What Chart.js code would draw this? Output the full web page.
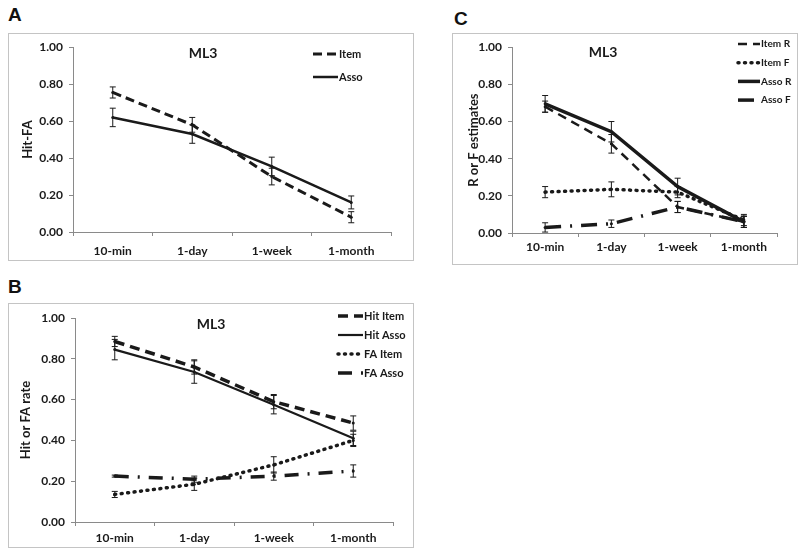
<!DOCTYPE html>
<html>
<head>
<meta charset="utf-8">
<script src="https://cdn.jsdelivr.net/npm/chart.js@4.4.1/dist/chart.umd.min.js"></script>
<style>
  body { margin: 0; background: #fff; width: 800px; height: 553px; position: relative; overflow: hidden; font-family: "Liberation Sans", Arial, sans-serif; }
  .frame { position: absolute; border: 1px solid #c4c4c4; box-sizing: border-box; }
  .frame canvas { display: block; }
  .letter { position: absolute; font-weight: bold; font-size: 19px; color: #111; }
</style>
</head>
<body>
<div class="letter" style="left:8px;top:4px;">A</div>
<div class="letter" style="left:8px;top:276px;">B</div>
<div class="letter" style="left:454px;top:8px;">C</div>

<div class="frame" style="left:8px;top:33px;width:406px;height:228px;"><canvas id="chartA" width="404" height="226"></canvas></div>
<div class="frame" style="left:8px;top:303px;width:406px;height:245px;"><canvas id="chartB" width="404" height="243"></canvas></div>
<div class="frame" style="left:452px;top:33px;width:346px;height:232px;"><canvas id="chartC" width="344" height="230"></canvas></div>

<script>
// delays
const categories = ["10-min", "1-day", "1-week", "1-month"];
const yTicks = [0, 0.2, 0.4, 0.6, 0.8, 1.0];

// panel A - Hit-FA
const aItem = [0.755, 0.58, 0.30, 0.08];
const aItemErr = [0.03, 0.04, 0.045, 0.03];
const aAsso = [0.62, 0.53, 0.355, 0.16];
const aAssoErr = [0.05, 0.05, 0.05, 0.035];

// panel B - Hit / FA rate
const bHitItem = [0.885, 0.76, 0.59, 0.485];
const bHitItemErr = [0.025, 0.035, 0.035, 0.035];
const bHitAsso = [0.845, 0.735, 0.575, 0.41];
const bHitAssoErr = [0.05, 0.055, 0.045, 0.035];
const bFaItem = [0.135, 0.185, 0.28, 0.40];
const bFaItemErr = [0.015, 0.03, 0.04, 0.03];
const bFaAsso = [0.225, 0.21, 0.225, 0.25];
const bFaAssoErr = [0.005, 0.015, 0.02, 0.03];

// panel C - R / F estimates
const cItemR = [0.68, 0.48, 0.14, 0.06];
const cItemRErr = [0.03, 0.05, 0.03, 0.03];
const cItemF = [0.22, 0.235, 0.22, 0.07];
const cItemFErr = [0.03, 0.04, 0.03, 0.03];
const cAssoR = [0.695, 0.545, 0.25, 0.06];
const cAssoRErr = [0.045, 0.055, 0.045, 0.03];
const cAssoF = [0.03, 0.05, 0.14, 0.06];
const cAssoFErr = [0.025, 0.02, 0.03, 0.03];

const FONT = "Lato, 'Liberation Sans', sans-serif";
const INK = "#1a1a1a";

function series(label, data, errors, dash, width) {
    return {
        label: label,
        data: data,
        errors: errors,
        borderColor: INK,
        backgroundColor: INK,
        borderWidth: width,
        borderDash: dash,
        borderCapStyle: dash.length && dash[0] <= 2 ? "round" : "butt",
        pointRadius: 1.5,
        pointBorderWidth: 0,
        tension: 0,
        fill: false,
    };
}

// error bars + legend + inner title
const panelDecor = {
    id: "panelDecor",
    afterDatasetsDraw(chart) {
        const ctx = chart.ctx;
        const y = chart.scales.y;
        ctx.save();
        ctx.strokeStyle = INK;
        ctx.lineWidth = 1;
        ctx.setLineDash([]);
        chart.data.datasets.forEach((ds, di) => {
            const meta = chart.getDatasetMeta(di);
            (ds.errors || []).forEach((e, i) => {
                const px = meta.data[i].x;
                const top = y.getPixelForValue(ds.data[i] + e);
                const bot = y.getPixelForValue(ds.data[i] - e);
                ctx.beginPath();
                ctx.moveTo(px, top); ctx.lineTo(px, bot);
                ctx.moveTo(px - 3, top); ctx.lineTo(px + 3, top);
                ctx.moveTo(px - 3, bot); ctx.lineTo(px + 3, bot);
                ctx.stroke();
            });
        });
        ctx.restore();
    },
    afterDraw(chart, args, opts) {
        const ctx = chart.ctx;
        ctx.save();
        ctx.fillStyle = INK;
        ctx.font = "bold 14px " + FONT;
        ctx.textAlign = "center";
        ctx.textBaseline = "middle";
        ctx.fillText("ML3", opts.titleX, opts.titleY);

        ctx.font = "bold " + opts.legendSize + "px " + FONT;
        ctx.textAlign = "left";
        chart.data.datasets.forEach((ds, i) => {
            const ly = opts.legendY + i * opts.legendGap;
            ctx.strokeStyle = INK;
            ctx.lineWidth = ds.borderWidth;
            ctx.lineCap = ds.borderCapStyle;
            ctx.setLineDash(ds.borderDash);
            ctx.beginPath();
            ctx.moveTo(opts.legendX, ly);
            ctx.lineTo(opts.legendX + opts.sampleW, ly);
            ctx.stroke();
            ctx.setLineDash([]);
            ctx.fillText(ds.label, opts.legendX + opts.sampleW + 1, ly);
        });
        ctx.restore();
    }
};

function makePanel(id, datasets, g) {
    new Chart(document.getElementById(id), {
        type: "line",
        data: { labels: categories, datasets: datasets },
        options: {
            responsive: false,
            animation: false,
            layout: { padding: { top: g.top, right: g.right, left: 0, bottom: 0 } },
            plugins: {
                legend: { display: false },
                tooltip: { enabled: false },
                panelDecor: g.decor,
            },
            scales: {
                x: {
                    offset: true,
                    grid: { display: true, offset: true, drawOnChartArea: false, color: "#8a8a8a", tickLength: 4 },
                    border: { color: "#8a8a8a" },
                    ticks: { color: INK, font: { family: FONT, size: 12, weight: "bold" }, padding: g.xpad, maxRotation: 0 },
                    afterFit(s) { s.height = g.xh; },
                },
                y: {
                    min: 0, max: 1,
                    afterBuildTicks(s) { s.ticks = yTicks.map(v => ({ value: v })); },
                    grid: { display: true, drawOnChartArea: false, color: "#8a8a8a", tickLength: 4 },
                    border: { color: "#8a8a8a" },
                    ticks: {
                        color: INK, font: { family: FONT, size: 12, weight: "bold" }, padding: 6,
                        callback: v => Number(v).toFixed(2),
                    },
                    title: {
                        display: true, text: g.ytitle, color: INK,
                        font: { family: FONT, size: 13, weight: "bold" },
                        padding: { top: g.titlePad, bottom: 0 },
                    },
                    afterFit(s) { s.width = g.yw; },
                },
            },
        },
        plugins: [panelDecor],
    });
}

makePanel("chartA", [
    series("Item", aItem, aItemErr, [9, 5], 3),
    series("Asso", aAsso, aAssoErr, [], 2.5),
], {
    top: 13, right: 22, xh: 28, xpad: 8, yw: 64, ytitle: "Hit-FA", titlePad: 11,
    decor: { titleX: 194, titleY: 19, legendX: 304, legendY: 20, legendGap: 23, sampleW: 25, legendSize: 11 },
});

makePanel("chartB", [
    series("Hit Item", bHitItem, bHitItemErr, [10, 6], 3.5),
    series("Hit Asso", bHitAsso, bHitAssoErr, [], 2.2),
    series("FA Item", bFaItem, bFaItemErr, [1, 5.5], 3.5),
    series("FA Asso", bFaAsso, bFaAssoErr, [14, 9, 2, 9], 3.5),
], {
    top: 14, right: 20, xh: 25, xpad: 5, yw: 66, ytitle: "Hit or FA rate", titlePad: 9,
    decor: { titleX: 202, titleY: 20, legendX: 329, legendY: 12, legendGap: 19, sampleW: 25, legendSize: 11 },
});

makePanel("chartC", [
    series("Item R", cItemR, cItemRErr, [9, 6], 2.5),
    series("Item F", cItemF, cItemFErr, [1, 5.5], 3.5),
    series("Asso R", cAssoR, cAssoRErr, [], 3.5),
    series("Asso F", cAssoF, cAssoFErr, [16, 9, 2, 9], 3.5),
], {
    top: 12, right: 20, xh: 31, xpad: 3, yw: 59, ytitle: "R or F estimates", titlePad: 13,
    decor: { titleX: 150, titleY: 18, legendX: 285, legendY: 10, legendGap: 18.7, sampleW: 22, legendSize: 10 },
});
</script>
</body>
</html>
